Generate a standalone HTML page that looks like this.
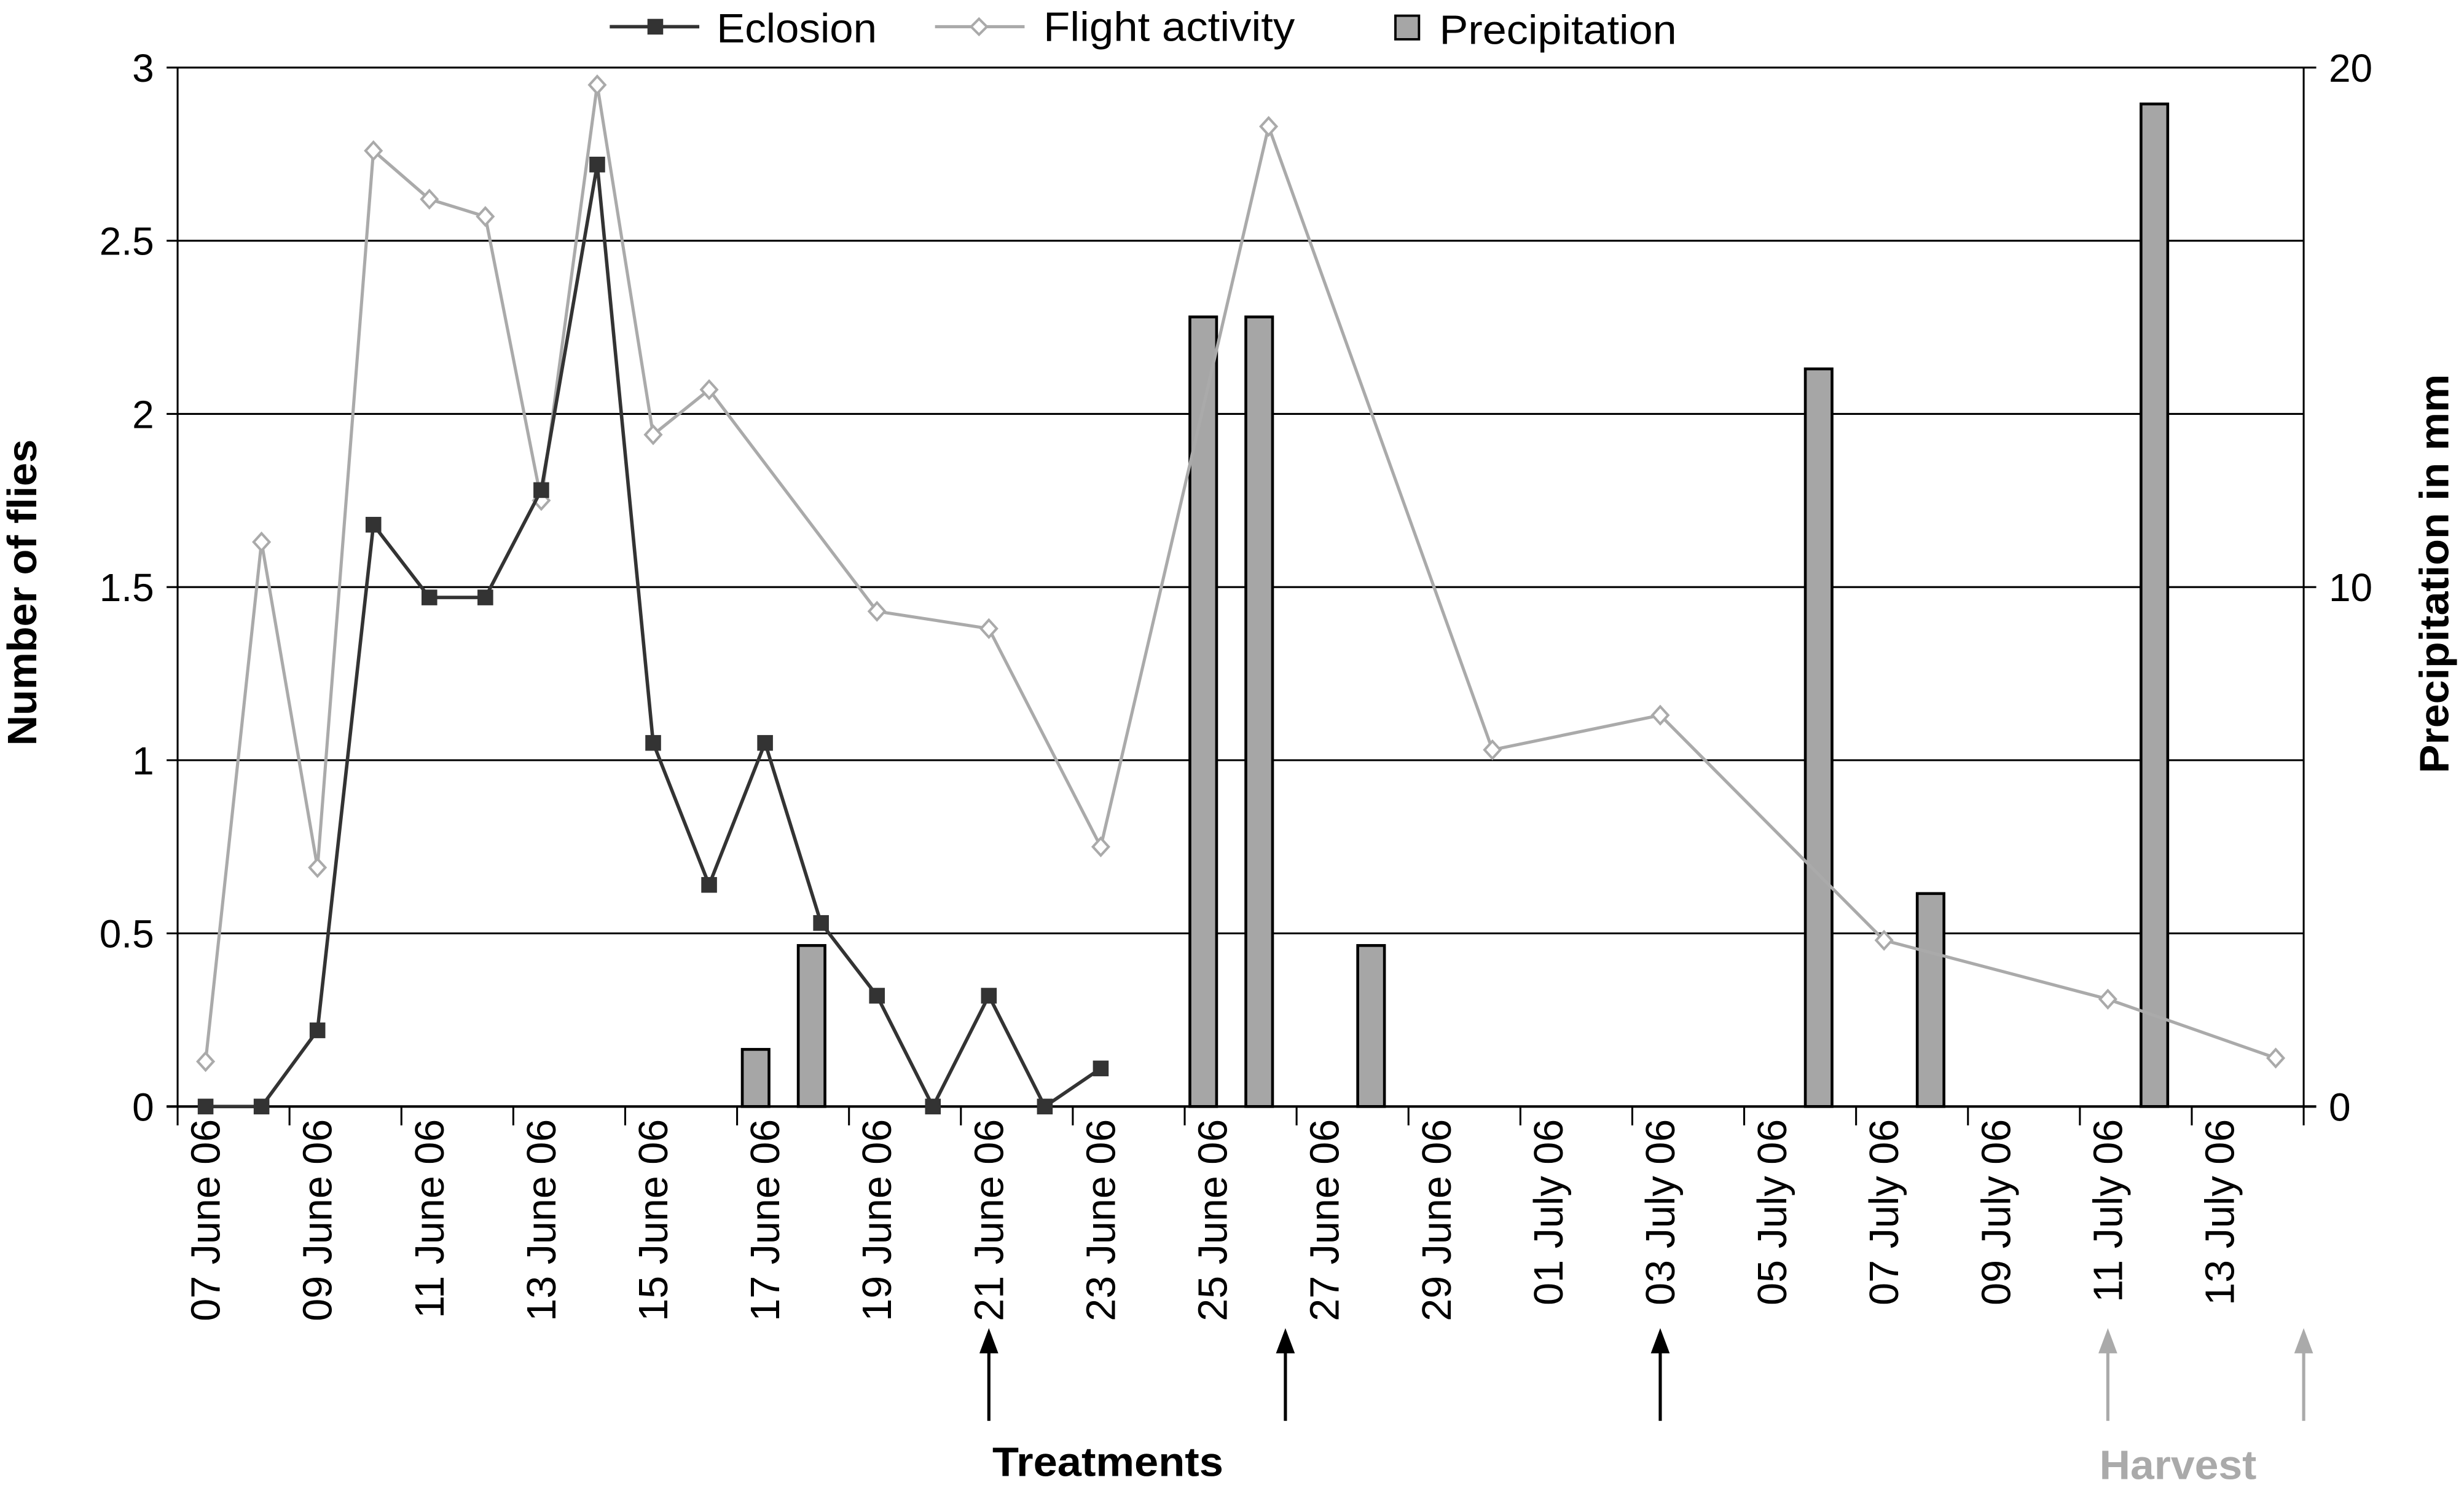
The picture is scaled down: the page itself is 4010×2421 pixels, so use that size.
<!DOCTYPE html>
<html><head><meta charset="utf-8"><style>
html,body{margin:0;padding:0;background:#fff;}
svg{display:block;font-family:"Liberation Sans",Arial,sans-serif;}
</style></head><body>
<svg id="chart" width="4010" height="2421" viewBox="0 0 1568 946.7" xmlns="http://www.w3.org/2000/svg">
<g id="grid"></g>
<g id="bars"></g>
<g id="axes"></g>
<g id="series"></g>
<g>
  <line x1="388" y1="17" x2="445" y2="17" stroke="#333" stroke-width="2.2"/>
  <rect x="412" y="12" width="10" height="10" fill="#333"/>
  <text x="456" y="27" font-size="26" fill="#000" textLength="102" lengthAdjust="spacingAndGlyphs">Eclosion</text>
  <line x1="595" y1="17" x2="652" y2="17" stroke="#aaa" stroke-width="2"/>
  <path d="M623,12 L628,17 L623,22 L618,17 Z" fill="#fff" stroke="#aaa" stroke-width="1.6"/>
  <text x="664" y="26" font-size="26" fill="#000" textLength="160" lengthAdjust="spacingAndGlyphs">Flight activity</text>
  <rect x="888" y="10" width="15" height="15" fill="#a6a6a6" stroke="#000" stroke-width="1.5"/>
  <text x="916" y="28" font-size="26" fill="#000" textLength="151" lengthAdjust="spacingAndGlyphs">Precipitation</text>
</g>
<text transform="translate(23,377) rotate(-90)" text-anchor="middle" font-size="26" font-weight="bold" textLength="195" lengthAdjust="spacingAndGlyphs">Number of flies</text>
<text transform="translate(1558,365) rotate(-90)" text-anchor="middle" font-size="26" font-weight="bold" textLength="254" lengthAdjust="spacingAndGlyphs">Precipitation in mm</text>
<g id="annot"></g>
<text x="705" y="939" text-anchor="middle" font-size="26" font-weight="bold" textLength="147" lengthAdjust="spacingAndGlyphs">Treatments</text>
<text x="1386" y="941" text-anchor="middle" font-size="26" font-weight="bold" fill="#aaa" textLength="100" lengthAdjust="spacingAndGlyphs">Harvest</text>
</svg>
<script>
const categories = ["07 June 06","08 June 06","09 June 06","10 June 06","11 June 06","12 June 06","13 June 06","14 June 06","15 June 06","16 June 06","17 June 06","18 June 06","19 June 06","20 June 06","21 June 06","22 June 06","23  June 06","24 June 06","25 June 06","26 June 06","27 June 06","28 June 06","29 June 06","30 June 06","01 July 06","02 July 06","03 July 06","04 July 06","05 July 06","06 July 06","07 July 06","08 July 06","09 July 06","10 July 06","11 July 06","12 July 06","13 July 06","14 July 06"];
const eclosion = [0,0,0.22,1.68,1.47,1.47,1.78,2.72,1.05,0.64,1.05,0.53,0.32,0,0.32,0,0.11,null,null,null,null,null,null,null,null,null,null,null,null,null,null,null,null,null,null,null,null,null];
const flight = [0.13,1.63,0.69,2.76,2.62,2.57,1.75,2.95,1.94,2.07,null,null,1.43,null,1.38,null,0.75,null,null,2.83,null,null,null,1.03,null,null,1.13,null,null,null,0.48,null,null,null,0.31,null,null,0.14];
const precipIndex = [10,11,18,19,21,29,31,35];
const precipValues = [1.1,3.1,15.2,15.2,3.1,14.2,4.1,19.3];
const leftTicks = [0,0.5,1,1.5,2,2.5,3];
const leftTickLabels = ["0","0.5","1","1.5","2","2.5","3"];
const rightTicks = [0,10,20];
const treatmentDays = [14,19.3,26];
const harvestDays = [34,38];

const NS="http://www.w3.org/2000/svg";
const X0=113, X1=1466, Y0=704, YT=43;
const bw=(X1-X0)/categories.length;
const xc=i=>X0+bw*(i+0.5);
const xe=i=>X0+bw*i;
const yL=v=>Y0-(v/3)*(Y0-YT);
const yR=v=>Y0-(v/20)*(Y0-YT);
function mk(tag,attrs,parent,text){const e=document.createElementNS(NS,tag);for(const k in attrs)e.setAttribute(k,attrs[k]);if(text!==undefined)e.textContent=text;parent.appendChild(e);return e;}
const grid=document.getElementById('grid'),axes=document.getElementById('axes'),bars=document.getElementById('bars'),series=document.getElementById('series'),annot=document.getElementById('annot');

leftTicks.forEach((t,k)=>{
  const y=yL(t);
  if(t>0){const g=mk('line',{x1:X0,x2:X1,y1:y,y2:y,stroke:'#000','stroke-width':1.2},grid);
  
  }
  mk('line',{x1:X0-7,x2:X0,y1:y,y2:y,stroke:'#000','stroke-width':1.2},axes);
  const lb=mk('text',{x:98,y:y+9,'text-anchor':'end','font-size':25},axes,leftTickLabels[k]);
  
  
});
rightTicks.forEach(t=>{
  const y=yR(t);
  mk('line',{x1:X1,x2:X1+8,y1:y,y2:y,stroke:'#000','stroke-width':1.2},axes);
  const lb=mk('text',{x:1482,y:y+9,'font-size':25},axes,String(t));
  
  
});
mk('line',{x1:X0,x2:X0,y1:YT,y2:Y0,stroke:'#000','stroke-width':1.2},axes);
mk('line',{x1:X1,x2:X1,y1:YT,y2:Y0,stroke:'#000','stroke-width':1.2},axes);
mk('line',{x1:X0-7,x2:X1+8,y1:Y0,y2:Y0,stroke:'#000','stroke-width':1.6},axes);
for(let i=0;i<=categories.length;i+=2){mk('line',{x1:xe(i),x2:xe(i),y1:Y0,y2:Y0+12,stroke:'#000','stroke-width':1.2},axes);}
categories.forEach((c,i)=>{
  if(i%2) return;
  const x=xc(i)+9, y=712;
  const t=mk('text',{transform:`translate(${x},${y}) rotate(-90)`,'text-anchor':'end','font-size':26,'xml:space':'preserve'},axes,c);
  
  
});

precipIndex.forEach((i,k)=>{
  const v=precipValues[k];
  const r=mk('rect',{x:xc(i)-6-8.5,y:yR(v),width:17,height:Y0-yR(v),fill:'#a6a6a6',stroke:'#000','stroke-width':1.8},bars);
  
  
});

function line(vals,color,w,name){
  const pts=[];vals.forEach((v,i)=>{if(v!==null)pts.push([xc(i),yL(v)]);});
  const p=mk('polyline',{points:pts.map(p=>p.join(',')).join(' '),fill:'none',stroke:color,'stroke-width':w},series);
  
  
  return pts;
}
const fp=line(flight,'#aaa',2,'flight-activity-line');
fp.forEach(([x,y])=>{
  const d=mk('path',{d:`M${x},${y-5.5} L${x+5},${y} L${x},${y+5.5} L${x-5},${y} Z`,fill:'#fff',stroke:'#aaa','stroke-width':1.6},series);
  
  
});
const ep=line(eclosion,'#333',2.2,'eclosion-line');
ep.forEach(([x,y])=>{
  const s=mk('rect',{x:x-5,y:y-5,width:10,height:10,fill:'#333'},series);
  
  
});

function arrow(i,color,name){
  const x=(i>=categories.length)?X1:xc(i);
  const g=mk('g',{},annot);
  
  
  mk('line',{x1:x,x2:x,y1:860,y2:904,stroke:color,'stroke-width':2},g);
  mk('path',{d:`M${x-6},861 L${x},845 L${x+6},861 Z`,fill:color},g);
}
treatmentDays.forEach(i=>arrow(i,'#000','treatment-arrow'));
harvestDays.forEach(i=>arrow(i,'#aaa','harvest-arrow'));
</script>
</body></html>
